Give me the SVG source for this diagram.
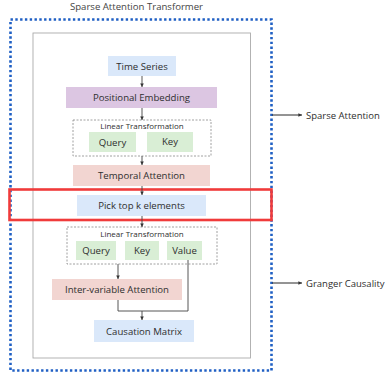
<svg xmlns="http://www.w3.org/2000/svg" width="385" height="379" viewBox="0 0 385 379">
<defs>
<style>
text{font-family:"Open Sans","Noto Sans",sans-serif;fill:#2e2e2e;}
.lbl{font-size:9.6px;text-anchor:middle;}
.sm{font-size:8px;text-anchor:middle;}
.side{font-size:9.5px;}
.con{stroke:#444;stroke-width:0.9;fill:none;}
.dash{fill:#fff;stroke:#888;stroke-width:0.8;stroke-dasharray:2 1.5;}
.blue{fill:#dae8fa;}
.purple{fill:#dcc6e2;}
.pink{fill:#f2d5d1;}
.green{fill:#d9eed5;}
</style>
<marker id="ah" viewBox="0 0 6 6" refX="6" refY="3" markerWidth="4" markerHeight="4" orient="auto">
<path d="M0,0 L6,3 L0,6 z" fill="#333"/>
</marker>
</defs>
<rect width="385" height="379" fill="#fff"/>
<text x="136.5" y="9.5" style="font-size:9.6px;text-anchor:middle;fill:#444">Sparse Attention Transformer</text>
<rect id="outer" x="10.5" y="19.5" width="261" height="351" fill="none" stroke="#1f5fc4" stroke-width="2.6" stroke-dasharray="2.4 2.4"/>
<rect id="inner" x="33" y="33" width="217.5" height="325" fill="none" stroke="#aaa" stroke-width="0.9"/>

<g id="time-series"><rect class="blue" x="108" y="56" width="68" height="20"/><text class="lbl" x="142" y="69.5">Time Series</text></g>
<g id="positional-embedding"><rect class="purple" x="66" y="87" width="151" height="21"/><text class="lbl" x="141.5" y="101">Positional Embedding</text></g>
<g id="linear-1"><rect class="dash" x="73" y="120" width="138" height="36"/><text class="sm" x="142" y="129">Linear Transformation</text>
<rect class="green" x="89" y="132" width="47" height="20"/><text class="lbl" x="112.5" y="145.5">Query</text>
<rect class="green" x="147" y="132" width="46" height="20"/><text class="lbl" x="170" y="145">Key</text></g>
<g id="temporal-attention"><rect class="pink" x="73" y="165" width="137" height="21"/><text class="lbl" x="141.5" y="179">Temporal Attention</text></g>
<g id="pick-top-k"><rect class="blue" x="77" y="195" width="129" height="21"/><text class="lbl" x="141.5" y="209">Pick top k elements</text></g>
<g id="linear-2"><rect class="dash" x="67" y="227" width="150" height="37"/><text class="sm" x="142" y="236.5">Linear Transformation</text>
<rect class="green" x="76" y="241" width="40" height="19"/><text class="lbl" x="96" y="254">Query</text>
<rect class="green" x="125" y="241" width="34" height="19"/><text class="lbl" x="142" y="254">Key</text>
<rect class="green" x="167" y="241" width="35" height="19"/><text class="lbl" x="184.5" y="254">Value</text></g>
<g id="inter-variable-attention"><rect class="pink" x="52" y="279" width="130" height="21"/><text class="lbl" x="117" y="293">Inter-variable Attention</text></g>
<g id="causation-matrix"><rect class="blue" x="94" y="320" width="100" height="22"/><text class="lbl" x="144" y="334.5">Causation Matrix</text></g>

<rect id="highlight" x="9.5" y="189.5" width="262" height="30.5" fill="none" stroke="#f03b3b" stroke-width="2.6"/>

<g id="connectors">
<line class="con" x1="142" y1="76" x2="142" y2="87" marker-end="url(#ah)"/>
<line class="con" x1="142" y1="108" x2="142" y2="120" marker-end="url(#ah)"/>
<line class="con" x1="142" y1="156" x2="142" y2="165" marker-end="url(#ah)"/>
<line class="con" x1="142" y1="186" x2="142" y2="195" marker-end="url(#ah)"/>
<line class="con" x1="142" y1="216" x2="142" y2="227" marker-end="url(#ah)"/>
<line class="con" x1="118" y1="264" x2="118" y2="279" marker-end="url(#ah)"/>
<polyline class="con" points="118,300 118,311 188,311 188,260"/>
<line class="con" x1="142" y1="311" x2="142" y2="320" marker-end="url(#ah)"/>
<line class="con" x1="272" y1="115" x2="302" y2="115" marker-end="url(#ah)" style="stroke:#111"/>
<line class="con" x1="272" y1="283" x2="302" y2="283" marker-end="url(#ah)" style="stroke:#111"/>
</g>
<text class="side" x="306" y="118.5">Sparse Attention</text>
<text class="side" x="306" y="286.5">Granger Causality</text>
</svg>
